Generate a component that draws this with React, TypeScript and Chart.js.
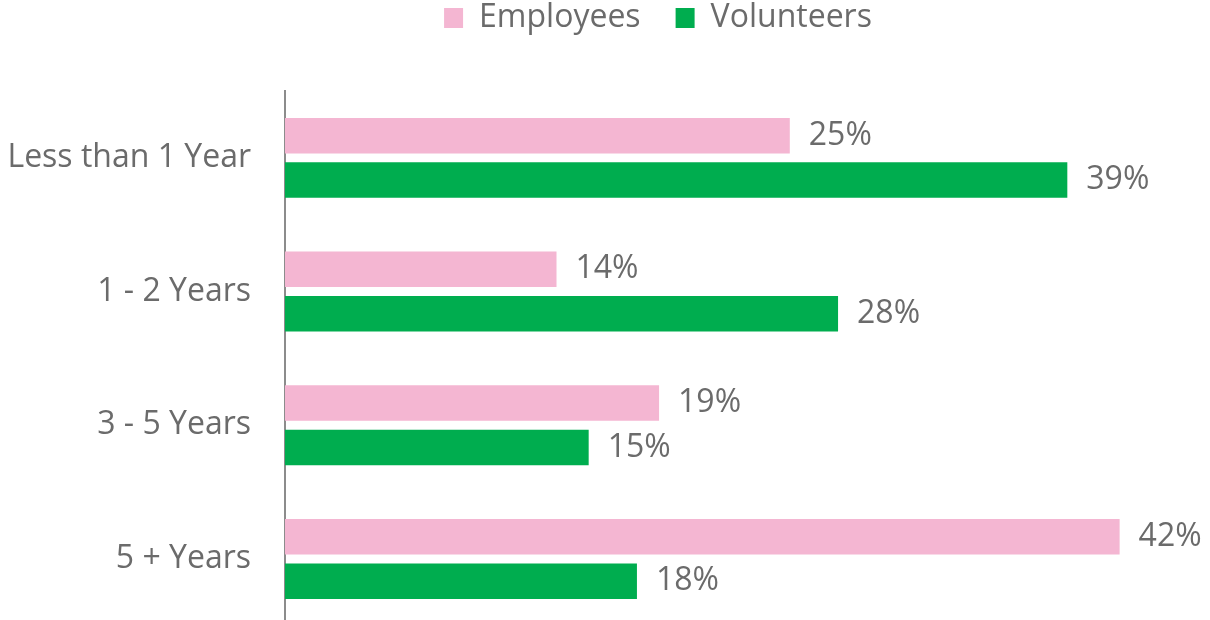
import React, { useEffect, useRef } from "react";
import { Chart, registerables } from "chart.js";

Chart.register(...registerables);

const categories = ["Less than 1 Year", "1 - 2 Years", "3 - 5 Years", "5 + Years"];
const employees = [25.1, 13.5, 18.6, 41.5];
const volunteers = [38.9, 27.5, 15.1, 17.5];
const seriesNames = ["Employees", "Volunteers"];
const colors = ["#F4B6D2", "#00AD4F"];

const FONT = "'Open Sans', 'DejaVu Sans', sans-serif";
const TEXT = "#6b6b6b";
const TOP_SHIFT = 33;
const CANVAS_H = 712;

const valueLabels = {
  id: "valueLabels",
  afterDatasetsDraw(chart: any) {
    const ctx = chart.ctx;
    ctx.save();
    ctx.font = `32px ${FONT}`;
    ctx.fillStyle = TEXT;
    ctx.textAlign = "left";
    ctx.textBaseline = "middle";
    chart.data.datasets.forEach((ds: any, i: number) => {
      const meta = chart.getDatasetMeta(i);
      meta.data.forEach((bar: any, j: number) => {
        ctx.fillText(Math.round(ds.data[j]) + "%", bar.x + 19, bar.y);
      });
    });
    ctx.restore();
  },
};

const legendSpacing = {
  id: "legendSpacing",
  beforeInit(chart: any) {
    const legend = chart.legend;
    if (!legend) return;
    const origFit = legend.fit;
    legend.fit = function () {
      origFit.call(this);
      this.height += 47;
    };
  },
  afterLayout(chart: any) {
    const legend = chart.legend;
    if (!legend) return;
    legend.left += 63;
    legend.right += 63;
  },
};

export default function App() {
  const ref = useRef<HTMLCanvasElement>(null);
  useEffect(() => {
    if (!ref.current) return;
    const chart = new Chart(ref.current, {
      type: "bar",
      data: {
        labels: categories,
        datasets: [
          { label: seriesNames[0], data: employees, backgroundColor: colors[0] },
          { label: seriesNames[1], data: volunteers, backgroundColor: colors[1] },
        ],
      },
      options: {
        indexAxis: "y",
        animation: false,
        responsive: false,
        maintainAspectRatio: false,
        layout: { padding: { left: 0, right: 20, top: 0, bottom: 0 } },
        datasets: { bar: { categoryPercentage: 0.664, barPercentage: 0.8 } },
        plugins: {
          tooltip: { enabled: false },
          legend: {
            position: "top",
            labels: {
              font: { family: FONT, size: 32 },
              color: TEXT,
              boxWidth: 19,
              boxHeight: 20,
              padding: 35,
            },
          },
        },
        scales: {
          x: { display: false, min: 0, max: 45 },
          y: {
            afterFit: (s: any) => {
              s.width = 285;
            },
            grid: { display: false, drawTicks: false },
            border: { display: true, color: "#8c8c8c", width: 2 },
            ticks: {
              font: { family: FONT, size: 32 },
              color: TEXT,
              padding: 34,
            },
          },
        },
      },
      plugins: [valueLabels, legendSpacing],
    });
    return () => chart.destroy();
  }, []);
  return (
    <div style={{ position: "absolute", left: 0, top: -TOP_SHIFT, width: 1210, height: CANVAS_H }}>
      <canvas ref={ref} width={1210} height={CANVAS_H} style={{ width: 1210, height: CANVAS_H }} />
    </div>
  );
}
